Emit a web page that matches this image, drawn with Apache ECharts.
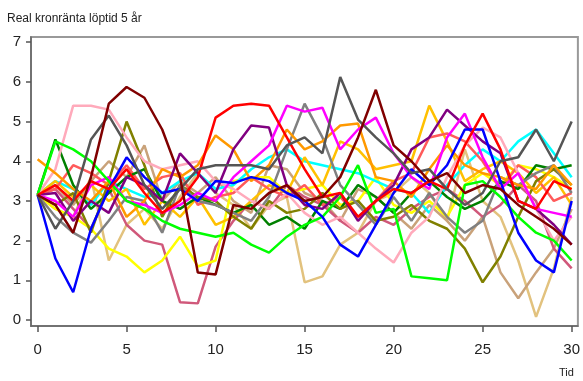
<!DOCTYPE html>
<html>
<head>
<meta charset="utf-8">
<script src="https://cdn.jsdelivr.net/npm/echarts@6/dist/echarts.min.js"></script>
<style>
  html, body { margin: 0; padding: 0; background: #fff; }
  #chart { width: 583px; height: 381px; }
</style>
</head>
<body>
<div id="chart"></div>
<script>
// Time steps (years) and simulated real krona rate paths, maturity 5 years
const tid = Array.from({ length: 31 }, (_, i) => i);
const xTicks = [0, 5, 10, 15, 20, 25, 30];
const yTicks = [0, 1, 2, 3, 4, 5, 6, 7];

const blue      = [3.15,1.55,0.7,2.3,3.3,4.1,3.6,3.2,3.3,3.0,3.5,3.45,3.6,3.5,3.2,3.0,2.6,1.9,1.6,2.4,3.2,3.8,3.4,3.9,4.8,4.8,3.5,2.2,1.5,1.2,3.0];
const red       = [3.15,3.4,3.0,3.5,3.3,3.8,3.2,2.7,3.0,3.6,5.1,5.4,5.45,5.4,4.6,3.8,3.1,3.2,2.6,3.0,3.3,3.2,3.5,3.3,4.4,5.2,4.3,3.0,2.8,3.5,3.3];
const lime      = [3.15,4.5,4.3,4.0,3.5,3.0,2.8,2.5,2.3,2.2,2.1,2.2,1.9,1.7,2.1,2.4,2.6,3.1,3.9,2.7,2.8,1.1,1.05,1.0,3.4,3.5,3.1,2.6,2.2,2.0,1.5];
const magenta   = [3.15,3.0,2.6,3.4,3.6,3.0,2.9,2.7,2.9,3.2,3.0,3.6,4.0,4.4,5.4,5.25,5.35,4.3,4.8,5.1,4.2,3.6,3.3,4.6,5.2,4.1,3.3,3.7,2.8,2.7,2.6];
const maroon    = [3.15,2.9,2.2,3.6,5.45,5.87,5.6,4.8,3.6,1.2,1.15,2.9,2.8,3.2,3.4,3.0,3.1,3.6,4.6,5.8,4.4,4.0,3.5,3.7,3.2,3.4,3.3,2.9,2.6,2.3,1.9];
const darkGray  = [3.15,2.3,3.0,4.55,5.15,4.4,3.4,2.8,3.3,3.8,3.9,3.9,3.9,3.8,4.4,4.6,4.2,6.12,5.05,4.6,4.2,3.7,3.8,3.3,2.9,3.2,4.0,4.1,4.8,4.0,5.0];
const pink      = [3.15,3.8,5.4,5.4,5.3,4.6,4.0,3.8,3.9,4.0,3.5,3.3,3.0,2.8,3.2,2.7,2.4,2.6,2.2,1.8,1.45,2.2,2.6,3.6,4.4,4.85,4.6,3.7,2.8,2.0,2.6];
const purple    = [3.15,3.2,2.5,3.0,2.7,3.6,3.4,3.0,4.2,3.7,3.2,4.3,4.9,4.85,3.4,2.9,2.8,3.2,2.5,3.0,3.4,4.3,4.6,5.3,4.9,4.5,4.2,3.0,2.8,2.4,1.9];
const olive     = [3.15,2.9,3.2,2.2,3.5,5.0,3.9,2.6,3.4,3.1,3.0,2.6,2.3,3.0,2.7,2.8,3.2,2.8,3.0,2.5,2.6,2.9,2.5,2.3,1.8,0.95,1.6,2.6,3.5,3.8,3.4];
const khaki     = [3.15,2.8,2.6,3.6,1.5,2.4,2.8,2.3,3.1,3.7,3.2,2.9,2.3,2.9,3.1,0.95,1.1,1.9,2.2,3.0,3.2,3.6,3.2,2.5,4.3,3.0,2.6,1.5,0.08,1.3,3.1];
const rosyBrown = [3.15,3.4,2.9,3.5,4.0,3.6,4.4,3.0,3.5,3.2,3.6,3.0,2.7,3.9,3.8,3.2,3.0,2.5,3.3,3.1,2.7,2.3,2.9,2.5,2.0,2.6,1.2,0.55,1.2,1.8,2.8];
const rose      = [3.15,3.3,2.8,2.3,3.3,2.4,2.0,1.9,0.45,0.42,1.85,2.5,3.0,2.8,3.4,3.1,2.9,2.5,2.2,2.6,2.4,2.8,3.1,3.3,3.0,2.6,2.9,3.4,3.0,1.8,1.3];
const yellow    = [3.15,2.8,2.6,2.3,1.8,1.6,1.2,1.5,2.1,1.35,1.5,3.5,3.6,3.6,3.2,3.3,3.4,2.9,3.0,3.6,2.9,2.7,3.0,2.6,3.4,3.7,3.4,3.9,3.8,3.6,3.3];
const cyan      = [3.15,3.5,3.3,2.9,3.5,3.3,3.1,3.2,3.5,3.7,3.3,3.4,3.8,4.1,4.3,4.0,3.9,3.8,3.7,3.5,3.3,3.2,2.7,3.4,3.9,4.3,4.0,4.5,4.8,4.2,3.6];
const orange    = [4.05,3.7,3.3,3.0,3.5,2.6,3.0,3.8,3.6,3.9,4.65,4.3,3.5,3.9,4.8,4.3,4.5,4.9,4.95,3.6,3.5,3.1,3.8,4.4,3.9,3.7,3.6,3.4,3.3,3.9,3.4];
const darkGreen = [3.15,4.55,3.4,2.8,3.2,3.6,3.8,3.0,2.8,3.1,2.9,2.7,2.9,2.4,2.6,2.3,3.0,2.8,3.4,3.1,2.7,3.2,3.5,3.1,2.8,3.0,3.5,3.3,3.9,3.8,3.9];
const salmon    = [3.15,3.3,3.9,3.7,3.4,3.9,3.3,3.6,3.7,2.9,3.1,3.2,3.6,3.3,3.1,3.4,2.9,3.1,2.6,3.0,3.5,3.7,4.6,4.7,4.5,4.0,3.3,3.9,3.6,3.0,3.2];
const gold      = [3.15,3.5,3.1,3.4,3.0,3.3,2.4,3.0,2.6,3.1,2.4,2.6,3.0,3.4,3.2,4.1,3.4,4.5,4.3,3.8,3.9,4.0,5.4,4.5,3.5,3.8,4.0,3.7,3.2,3.6,2.9];
const gray      = [3.15,2.6,2.2,1.95,2.5,3.1,3.0,2.2,3.4,3.0,2.9,2.7,2.5,3.1,4.3,5.45,4.6,3.4,2.9,2.4,3.1,2.5,3.2,2.6,2.2,2.5,3.6,3.4,3.7,3.9,3.2];

const paths = [
  { values: khaki,     color: '#e2c27e' },
  { values: rosyBrown, color: '#c9a27a' },
  { values: rose,      color: '#d0587a' },
  { values: yellow,    color: '#ffff00' },
  { values: cyan,      color: '#00ffff' },
  { values: gold,      color: '#ffc000' },
  { values: salmon,    color: '#ff5a5a' },
  { values: darkGreen, color: '#008000' },
  { values: olive,     color: '#808000' },
  { values: gray,      color: '#808080' },
  { values: pink,      color: '#ffaabb' },
  { values: orange,    color: '#ff9900' },
  { values: purple,    color: '#800080' },
  { values: magenta,   color: '#ff00ff' },
  { values: lime,      color: '#00ff00' },
  { values: blue,      color: '#0000ff' },
  { values: red,       color: '#ff0000' },
  { values: darkGray,  color: '#555555' },
  { values: maroon,    color: '#800000' }
];

const chart = echarts.init(document.getElementById('chart'), null, { renderer: 'canvas' });

const axisFont = { fontFamily: 'Liberation Sans, Arial, sans-serif', fontSize: 15, color: '#222' };

chart.setOption({
  animation: false,
  backgroundColor: '#fff',
  title: {
    text: 'Real kronränta löptid 5 år',
    left: 2, top: 8,
    textStyle: { fontFamily: 'Liberation Sans, Arial, sans-serif', fontSize: 12, fontWeight: 'normal', color: '#222' }
  },
  graphic: [{
    type: 'text', left: 559, top: 367,
    style: { text: 'Tid', fontFamily: 'Liberation Sans, Arial, sans-serif', fontSize: 11, fill: '#222' }
  }],
  grid: {
    left: 31, top: 37, right: 1, bottom: 55,
    show: true, borderColor: '#999', borderWidth: 2, backgroundColor: '#fff'
  },
  xAxis: {
    type: 'value', min: -0.37, max: 30.35,
    axisLine: { onZero: false, lineStyle: { color: '#666', width: 1.5 } },
    axisTick: { customValues: xTicks, length: 6, lineStyle: { color: '#555', width: 1.5 } },
    axisLabel: { customValues: xTicks, margin: 16, ...axisFont },
    splitLine: { show: false }
  },
  yAxis: {
    type: 'value', min: -0.15, max: 7.13,
    axisLine: { show: true, onZero: false, lineStyle: { color: '#666', width: 1.5 } },
    axisTick: { show: true, customValues: yTicks, length: 5, lineStyle: { color: '#555', width: 1.5 } },
    axisLabel: { customValues: yTicks, margin: 10, ...axisFont },
    splitLine: { show: false }
  },
  series: paths.map(p => ({
    type: 'line',
    data: tid.map((t, i) => [t, p.values[i]]),
    showSymbol: false,
    symbol: 'none',
    clip: true,
    lineStyle: { color: p.color, width: 2.5 },
    itemStyle: { color: p.color }
  }))
});
</script>
</body>
</html>
